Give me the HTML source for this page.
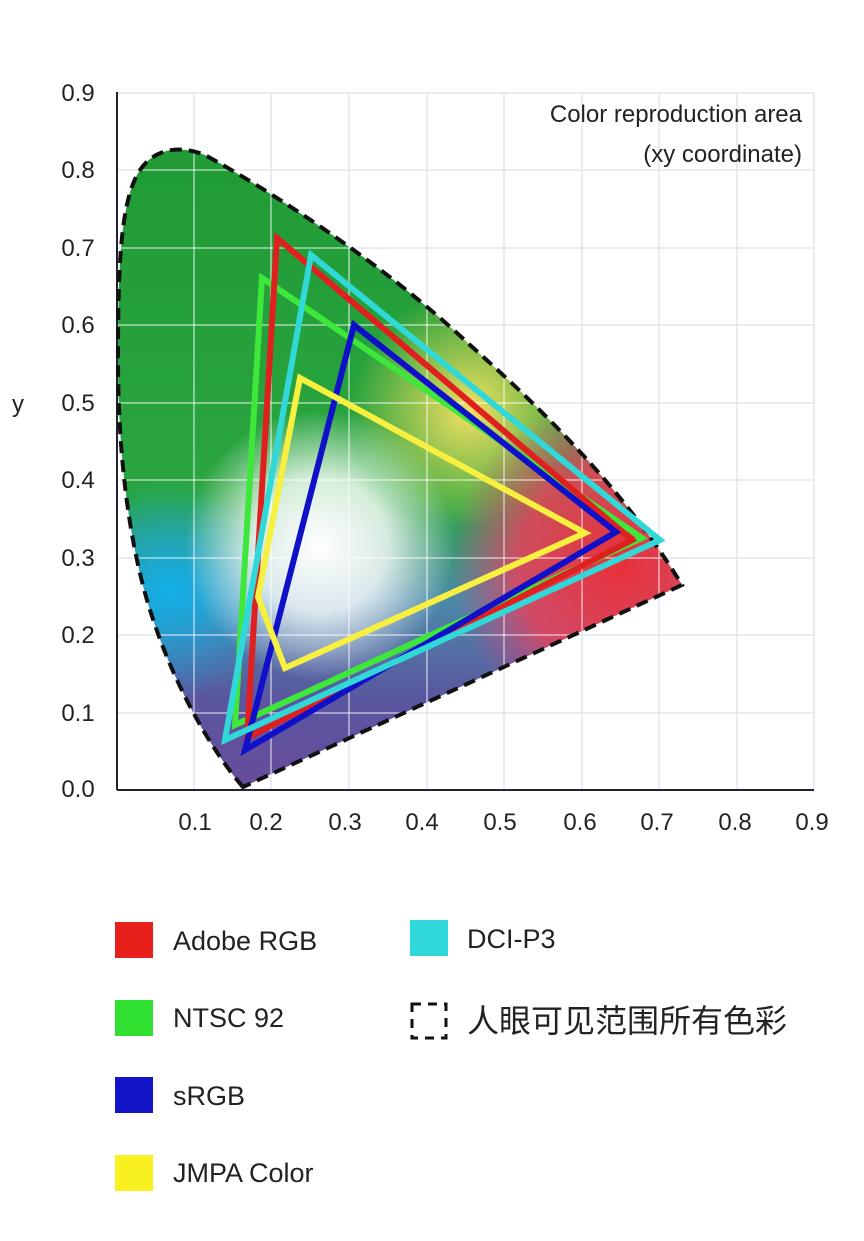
<!DOCTYPE html>
<html><head><meta charset="utf-8"><style>
body{margin:0;background:#fff;}
svg text{font-family:"Liberation Sans","Noto Sans CJK SC",sans-serif;fill:#222;}
</style></head><body>
<svg width="864" height="1236" viewBox="0 0 864 1236" xmlns="http://www.w3.org/2000/svg">
<defs>
<clipPath id="loc"><path id="lp" d="M243,787 C215,755 175,690 150,610 C128,540 118,450 118,360 C118,270 120,200 140,170 C155,148 180,145 205,155 C260,185 380,260 470,345 C560,425 630,500 682,585 Z"/></clipPath>
<radialGradient id="gw" cx="320" cy="545" r="135" gradientUnits="userSpaceOnUse"><stop offset="0" stop-color="#fff" stop-opacity="1"/><stop offset="0.5" stop-color="#fff" stop-opacity="0.8"/><stop offset="1" stop-color="#fff" stop-opacity="0"/></radialGradient>
<radialGradient id="gr" cx="620" cy="565" r="170" gradientUnits="userSpaceOnUse"><stop offset="0" stop-color="#e8303a"/><stop offset="0.6" stop-color="#e8405a" stop-opacity="0.85"/><stop offset="1" stop-color="#e04080" stop-opacity="0"/></radialGradient>
<radialGradient id="gc" cx="170" cy="590" r="110" gradientUnits="userSpaceOnUse"><stop offset="0" stop-color="#10b0e8"/><stop offset="1" stop-color="#10b0e8" stop-opacity="0"/></radialGradient>
<radialGradient id="gy" cx="470" cy="410" r="120" gradientUnits="userSpaceOnUse"><stop offset="0" stop-color="#f4e060"/><stop offset="1" stop-color="#f4e060" stop-opacity="0"/></radialGradient>
<linearGradient id="base" x1="0" y1="0" x2="0" y2="1"><stop offset="0" stop-color="#1f9a35"/><stop offset="0.55" stop-color="#2aa540"/><stop offset="0.7" stop-color="#4a8aa8"/><stop offset="0.85" stop-color="#5a56a0"/><stop offset="1" stop-color="#6a4a9a"/></linearGradient>
</defs>
<g stroke="#e4e6ee" stroke-width="1.5">
<line x1="194" y1="93" x2="194" y2="790"/><line x1="271" y1="93" x2="271" y2="790"/><line x1="349" y1="93" x2="349" y2="790"/><line x1="427" y1="93" x2="427" y2="790"/><line x1="504" y1="93" x2="504" y2="790"/><line x1="582" y1="93" x2="582" y2="790"/><line x1="659" y1="93" x2="659" y2="790"/><line x1="737" y1="93" x2="737" y2="790"/><line x1="814" y1="93" x2="814" y2="790"/>
<line x1="117" y1="93" x2="814" y2="93"/><line x1="117" y1="170" x2="814" y2="170"/><line x1="117" y1="248" x2="814" y2="248"/><line x1="117" y1="325" x2="814" y2="325"/><line x1="117" y1="403" x2="814" y2="403"/><line x1="117" y1="480" x2="814" y2="480"/><line x1="117" y1="558" x2="814" y2="558"/><line x1="117" y1="635" x2="814" y2="635"/><line x1="117" y1="713" x2="814" y2="713"/>
</g>
<g clip-path="url(#loc)">
<rect x="100" y="130" width="600" height="670" fill="url(#base)"/>
<rect x="100" y="130" width="600" height="670" fill="url(#gc)"/>
<rect x="100" y="130" width="600" height="670" fill="url(#gy)"/>
<rect x="100" y="130" width="600" height="670" fill="url(#gr)"/>
<rect x="100" y="130" width="600" height="670" fill="url(#gw)"/>
<g stroke="#ffffff" stroke-opacity="0.45" stroke-width="2">
<line x1="194" y1="93" x2="194" y2="790"/><line x1="271" y1="93" x2="271" y2="790"/><line x1="349" y1="93" x2="349" y2="790"/><line x1="427" y1="93" x2="427" y2="790"/><line x1="504" y1="93" x2="504" y2="790"/><line x1="582" y1="93" x2="582" y2="790"/><line x1="659" y1="93" x2="659" y2="790"/>
<line x1="117" y1="170" x2="814" y2="170"/><line x1="117" y1="248" x2="814" y2="248"/><line x1="117" y1="325" x2="814" y2="325"/><line x1="117" y1="403" x2="814" y2="403"/><line x1="117" y1="480" x2="814" y2="480"/><line x1="117" y1="558" x2="814" y2="558"/><line x1="117" y1="635" x2="814" y2="635"/><line x1="117" y1="713" x2="814" y2="713"/>
</g>
</g>
<line x1="117" y1="92" x2="117" y2="790" stroke="#223" stroke-width="2"/>
<line x1="117" y1="790" x2="814" y2="790" stroke="#223" stroke-width="2"/>
<use href="#lp" fill="none" stroke="#111" stroke-width="4" stroke-dasharray="12,7"/>
<g fill="none" stroke-width="6" stroke-linejoin="miter">
<polygon points="262,278 642,538 235,725" stroke="#3de83a"/>
<polygon points="277,238 632,540 247,738" stroke="#e0201e"/>
<polygon points="354,325 616,532 245,750" stroke="#1010c8"/>
<polygon points="311,255 660,540 225,740" stroke="#30d8d8"/>
<polygon points="300,378 585,533 285,668 258,597" stroke="#f8f040"/>
</g>
<g font-size="24" text-anchor="middle">
<text x="78" y="101">0.9</text><text x="78" y="178">0.8</text><text x="78" y="256">0.7</text><text x="78" y="333">0.6</text><text x="78" y="411">0.5</text><text x="78" y="488">0.4</text><text x="78" y="566">0.3</text><text x="78" y="643">0.2</text><text x="78" y="721">0.1</text><text x="78" y="797">0.0</text>
<text x="195" y="830">0.1</text><text x="266" y="830">0.2</text><text x="345" y="830">0.3</text><text x="422" y="830">0.4</text><text x="500" y="830">0.5</text><text x="580" y="830">0.6</text><text x="657" y="830">0.7</text><text x="735" y="830">0.8</text><text x="812" y="830">0.9</text>
<text x="18" y="412">y</text>
</g>
<g font-size="24" text-anchor="end"><text x="802" y="122">Color reproduction area</text><text x="802" y="162">(xy coordinate)</text></g>
<rect x="115" y="922" width="38" height="36" fill="#e8201c"/>
<rect x="115" y="1000" width="38" height="36" fill="#30e030"/>
<rect x="115" y="1077" width="38" height="36" fill="#1414c8"/>
<rect x="115" y="1155" width="38" height="36" fill="#f8f020"/>
<rect x="410" y="920" width="38" height="36" fill="#30d8dc"/>
<rect x="412" y="1004" width="34" height="34" fill="none" stroke="#111" stroke-width="3" stroke-dasharray="9,7"/>
<g font-size="27"><text x="173" y="950">Adobe RGB</text><text x="173" y="1027">NTSC 92</text><text x="173" y="1105">sRGB</text><text x="173" y="1182">JMPA Color</text><text x="467" y="948">DCI-P3</text><text x="467" y="1032" font-size="32">人眼可见范围所有色彩</text></g>
</svg>
</body></html>
